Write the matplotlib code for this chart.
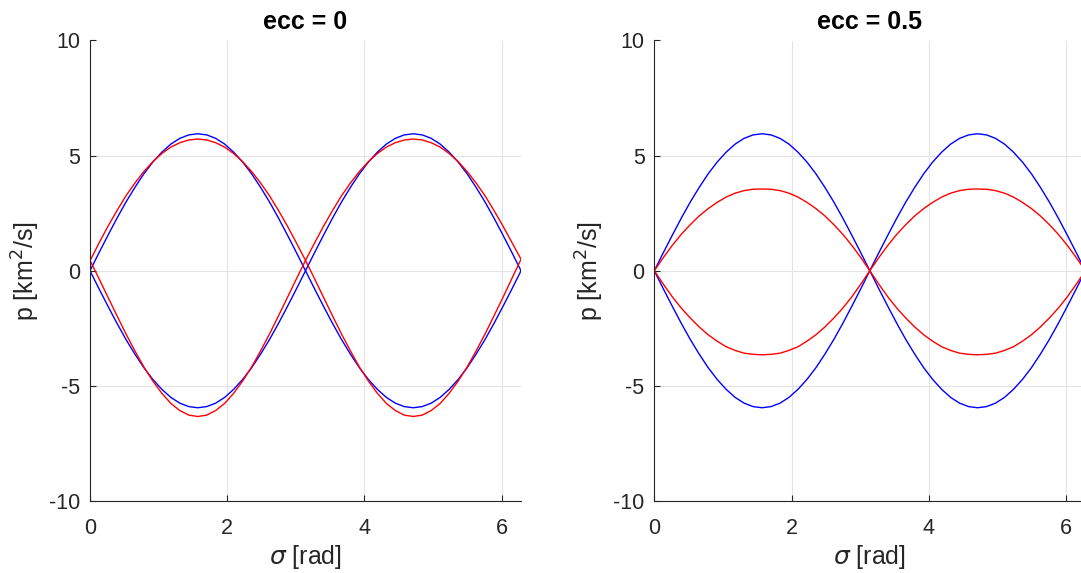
import numpy as np
import matplotlib
matplotlib.use("Agg")
import matplotlib.pyplot as plt

# sampled angle (rad), every 7.5 degrees from 0 to 2*pi
sigma = np.deg2rad(np.arange(0, 360.1, 7.5))

# ecc = 0
blue_up_e0 = [0, 0.78, 1.54, 2.28, 2.98, 3.62, 4.21, 4.72, 5.15, 5.50, 5.75, 5.90, 5.95,
              5.90, 5.75, 5.50, 5.15, 4.72, 4.21, 3.62, 2.98, 2.28, 1.54, 0.78, 0,
              0.78, 1.54, 2.28, 2.98, 3.62, 4.21, 4.72, 5.15, 5.50, 5.75, 5.90, 5.95,
              5.90, 5.75, 5.50, 5.15, 4.72, 4.21, 3.62, 2.98, 2.28, 1.54, 0.78, 0]
blue_lo_e0 = [0, -0.78, -1.54, -2.28, -2.98, -3.62, -4.21, -4.72, -5.15, -5.50, -5.75, -5.90, -5.95,
              -5.90, -5.75, -5.50, -5.15, -4.72, -4.21, -3.62, -2.98, -2.28, -1.54, -0.78, 0,
              -0.78, -1.54, -2.28, -2.98, -3.62, -4.21, -4.72, -5.15, -5.50, -5.75, -5.90, -5.95,
              -5.90, -5.75, -5.50, -5.15, -4.72, -4.21, -3.62, -2.98, -2.28, -1.54, -0.78, 0]
red_up_e0 = [0.43, 1.20, 1.93, 2.61, 3.25, 3.81, 4.31, 4.74, 5.09, 5.37, 5.56, 5.68, 5.72,
             5.68, 5.56, 5.37, 5.09, 4.74, 4.31, 3.81, 3.25, 2.61, 1.93, 1.20, 0.45,
             1.20, 1.93, 2.61, 3.25, 3.81, 4.31, 4.74, 5.09, 5.37, 5.56, 5.68, 5.72,
             5.68, 5.56, 5.37, 5.09, 4.74, 4.31, 3.81, 3.25, 2.61, 1.93, 1.22, 0.50]
red_lo_e0 = [0.45, -0.34, -1.15, -1.95, -2.74, -3.48, -4.18, -4.79, -5.32, -5.76, -6.07, -6.27, -6.33,
             -6.27, -6.07, -5.76, -5.32, -4.79, -4.18, -3.48, -2.74, -1.95, -1.15, -0.34, 0.45,
             -0.34, -1.15, -1.95, -2.74, -3.48, -4.18, -4.79, -5.32, -5.76, -6.07, -6.27, -6.33,
             -6.27, -6.07, -5.76, -5.32, -4.79, -4.18, -3.48, -2.74, -1.95, -1.15, -0.32, 0.50]

# ecc = 0.5
blue_up_e5 = [0, 0.78, 1.54, 2.28, 2.98, 3.62, 4.21, 4.72, 5.15, 5.50, 5.75, 5.90, 5.95,
              5.90, 5.75, 5.50, 5.15, 4.72, 4.21, 3.62, 2.98, 2.28, 1.54, 0.78, 0,
              0.78, 1.54, 2.28, 2.98, 3.62, 4.21, 4.72, 5.15, 5.50, 5.75, 5.90, 5.95,
              5.90, 5.75, 5.50, 5.15, 4.72, 4.21, 3.62, 2.98, 2.28, 1.54, 0.78, 0]
blue_lo_e5 = [0, -0.78, -1.54, -2.28, -2.98, -3.62, -4.21, -4.72, -5.15, -5.50, -5.75, -5.90, -5.95,
              -5.90, -5.75, -5.50, -5.15, -4.72, -4.21, -3.62, -2.98, -2.28, -1.54, -0.78, 0,
              -0.78, -1.54, -2.28, -2.98, -3.62, -4.21, -4.72, -5.15, -5.50, -5.75, -5.90, -5.95,
              -5.90, -5.75, -5.50, -5.15, -4.72, -4.21, -3.62, -2.98, -2.28, -1.54, -0.78, 0]
red_up_e5 = [0, 0.57, 1.10, 1.58, 2.00, 2.38, 2.70, 2.97, 3.20, 3.37, 3.48, 3.54, 3.55,
             3.54, 3.48, 3.37, 3.20, 2.97, 2.70, 2.38, 2.00, 1.58, 1.10, 0.57, 0,
             0.57, 1.10, 1.58, 2.00, 2.38, 2.70, 2.97, 3.20, 3.37, 3.48, 3.54, 3.55,
             3.54, 3.48, 3.37, 3.20, 2.97, 2.70, 2.38, 2.00, 1.58, 1.10, 0.57, 0]
red_lo_e5 = [0, -0.58, -1.13, -1.62, -2.05, -2.44, -2.78, -3.06, -3.30, -3.46, -3.58, -3.63, -3.65,
             -3.63, -3.58, -3.46, -3.30, -3.06, -2.78, -2.44, -2.05, -1.62, -1.13, -0.58, 0,
             -0.58, -1.13, -1.62, -2.05, -2.44, -2.78, -3.06, -3.30, -3.46, -3.58, -3.63, -3.65,
             -3.63, -3.58, -3.46, -3.30, -3.06, -2.78, -2.44, -2.05, -1.62, -1.13, -0.58, 0]

titles = ["ecc = 0", "ecc = 0.5"]
xticks = [0, 2, 4, 6]
yticks = [-10, -5, 0, 5, 10]

plt.rcParams['font.family'] = ['Liberation Sans', 'DejaVu Sans']
plt.rcParams['mathtext.fontset'] = 'dejavusans'
plt.rcParams['axes.unicode_minus'] = False

W, H = 1081, 573
fig = plt.figure(figsize=(W / 100, H / 100), dpi=100)

axcol = '#262626'
panels = [
    (90, titles[0], blue_up_e0, blue_lo_e0, red_up_e0, red_lo_e0),
    (654.3, titles[1], blue_up_e5, blue_lo_e5, red_up_e5, red_lo_e5),
]
x_w = 2 * np.pi * 68.6
top, bot = 40.5, 501
for left, title, bu, bl, ru, rl in panels:
    ax = fig.add_axes([left / W, (H - bot) / H, x_w / W, (bot - top) / H])
    ax.plot(sigma, bu, color='#0000ff', lw=1.0)
    ax.plot(sigma, bl, color='#0000ff', lw=1.0)
    ax.plot(sigma, ru, color='#ff0000', lw=1.0)
    ax.plot(sigma, rl, color='#ff0000', lw=1.0)
    ax.set_xlim(0, 2 * np.pi)
    ax.set_ylim(-10, 10)
    ax.set_xticks(xticks)
    ax.set_yticks(yticks)
    ax.grid(True, color='#e3e3e3', lw=0.8)
    ax.set_axisbelow(True)
    for s in ['top', 'right']:
        ax.spines[s].set_visible(False)
    for s in ['left', 'bottom']:
        ax.spines[s].set_color(axcol)
        ax.spines[s].set_linewidth(0.8)
    ax.tick_params(direction='in', length=4, width=0.8, colors=axcol,
                   labelsize=15.5, labelcolor=axcol)
    ax.tick_params(axis='x', pad=12)
    ax.tick_params(axis='y', pad=7)
    ax.set_title(title, fontsize=18, fontweight='bold', pad=8, color='black')
    ax.set_xlabel(r'$\sigma$ [rad]', fontsize=18, color=axcol, labelpad=3)
    ax.set_ylabel(r'p [km$^2$/s]', fontsize=18, color=axcol, labelpad=5)

fig.savefig('out.png', dpi=100)
